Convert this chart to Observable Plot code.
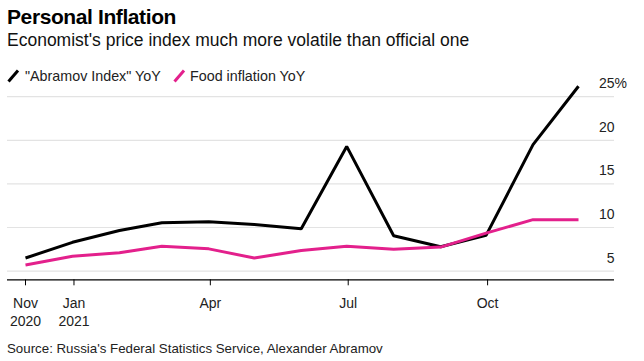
<!DOCTYPE html>
<html>
<head>
<meta charset="utf-8">
<script src="https://cdn.jsdelivr.net/npm/d3@7"></script>
<script src="https://cdn.jsdelivr.net/npm/@observablehq/plot@0.6"></script>
<style>
  html, body { margin: 0; padding: 0; background: #fff; }
  body { width: 644px; height: 361px; position: relative; overflow: hidden;
         font-family: "Liberation Sans", Arial, Helvetica, sans-serif; }
  .t { position: absolute; white-space: nowrap; line-height: 1; }
  #title { left: 7px; top: 5.5px; font-size: 21px; font-weight: bold; color: #000; letter-spacing: -0.4px; }
  #subtitle { left: 7px; top: 32px; font-size: 17.5px; color: #111; }
  #legend { position: absolute; left: 0; top: 66px; height: 20px; width: 644px; }
  .lg { position: absolute; top: 3px; font-size: 14.3px; color: #222; line-height: 1; white-space: nowrap; }
  #source { left: 7px; top: 341.5px; font-size: 13.3px; color: #222; }
  #chart { position: absolute; left: 0; top: 84px; }
</style>
</head>
<body>
<div id="title" class="t">Personal Inflation</div>
<div id="subtitle" class="t">Economist's price index much more volatile than official one</div>
<div id="legend"></div>
<div id="chart"></div>
<div id="source" class="t">Source: Russia's Federal Statistics Service, Alexander Abramov</div>
<script>
// ---- data (month-end readings) ----
const months = ["2020-11-30","2020-12-31","2021-01-31","2021-02-28","2021-03-31","2021-04-30",
                "2021-05-31","2021-06-30","2021-07-31","2021-08-31","2021-09-30","2021-10-31","2021-11-30"];
const abramovIndex = [6.5, 8.3, 9.65, 10.55, 10.65, 10.35, 9.85, 19.3, 9.05, 7.8, 9.1, 19.5, 26.2];
const foodInflation = [5.7, 6.7, 7.1, 7.85, 7.55, 6.5, 7.35, 7.85, 7.5, 7.75, 9.35, 10.9, 10.9];

const seriesNames = ["\"Abramov Index\" YoY", "Food inflation YoY"];
const seriesColors = ["#000000", "#e3208c"];

const yTicks = [5, 10, 15, 20, 25];
const xTickDates = ["2020-11-30", "2021-01-01", "2021-04-01", "2021-07-01", "2021-10-01"];
const xTickLabels = ["Nov\n2020", "Jan\n2021", "Apr", "Jul", "Oct"];

// ---- build table ----
const parse = s => new Date(s + "T00:00:00Z");
const data = months.map((m, i) => ({date: parse(m), abramov: abramovIndex[i], food: foodInflation[i]}));
const tickDates = xTickDates.map(parse);
const labelMap = new Map(tickDates.map((d, i) => [+d, xTickLabels[i]]));

// ---- legend ----
const legend = document.getElementById("legend");
const swatchX = [6, 172];
const textX = [25, 190];
seriesNames.forEach((name, i) => {
  const sw = document.createElementNS("http://www.w3.org/2000/svg", "svg");
  sw.setAttribute("width", 16); sw.setAttribute("height", 16);
  sw.style.position = "absolute"; sw.style.left = swatchX[i] + "px"; sw.style.top = "2px";
  const ln = document.createElementNS("http://www.w3.org/2000/svg", "line");
  ln.setAttribute("x1", 2.5); ln.setAttribute("y1", 13.5); ln.setAttribute("x2", 12); ln.setAttribute("y2", 2.5);
  ln.setAttribute("stroke", seriesColors[i]); ln.setAttribute("stroke-width", 3);
  sw.appendChild(ln);
  legend.appendChild(sw);
  const tx = document.createElement("div");
  tx.className = "lg"; tx.style.left = textX[i] + "px"; tx.textContent = name;
  legend.appendChild(tx);
});

// ---- chart ----
const chart = Plot.plot({
  width: 644,
  height: 240,
  marginLeft: 7,
  marginRight: 30,
  marginTop: 3.5,
  marginBottom: 44.7,
  style: {fontFamily: "'Liberation Sans', Arial, Helvetica, sans-serif", fontSize: "14px", color: "#222", background: "transparent", overflow: "visible"},
  x: {type: "utc", domain: [data[0].date, data[data.length - 1].date], insetLeft: 18, insetRight: 36},
  y: {domain: [4, 26]},
  marks: [
    Plot.ruleY(yTicks, {stroke: "#e3e3e3", strokeWidth: 1.2}),
    Plot.ruleY([4], {stroke: "#000", strokeWidth: 1.2}),
    Plot.axisX({ticks: tickDates, tickFormat: d => labelMap.get(+d), tickSize: 6, tickPadding: 9,
                lineHeight: 1.314, label: null, fill: "#222", stroke: "#000"}),
    Plot.axisY({ticks: [], label: null}),
    Plot.text(yTicks, {y: d => d, text: d => String(d), frameAnchor: "right", textAnchor: "end", dy: -13, fill: "#222"}),
    Plot.text([25], {y: d => d, text: () => "%", frameAnchor: "right", textAnchor: "start", dy: -13, fill: "#222"}),
    Plot.line(data, {x: "date", y: "abramov", stroke: seriesColors[0], strokeWidth: 3, strokeLinejoin: "miter", strokeLinecap: "butt"}),
    Plot.line(data, {x: "date", y: "food", stroke: seriesColors[1], strokeWidth: 3, strokeLinejoin: "miter", strokeLinecap: "butt"})
  ]
});
document.getElementById("chart").appendChild(chart);
</script>
</body>
</html>
